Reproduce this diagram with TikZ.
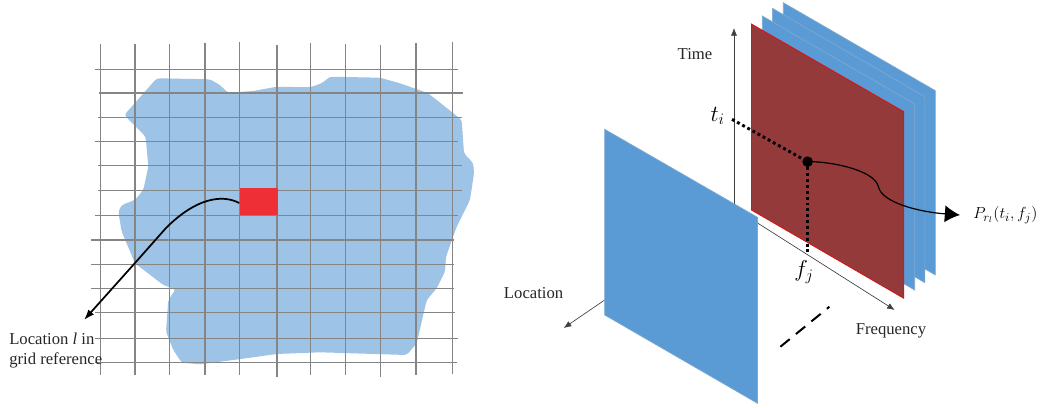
\documentclass[tikz,border=0pt]{standalone}
\usepackage{fontspec}
\usepackage{amsmath}
\usetikzlibrary{arrows.meta, positioning}
\setmainfont{Liberation Serif}
\definecolor{regionblue}{HTML}{9DC3E6}
\definecolor{panelblue}{HTML}{5B9BD5}
\definecolor{paneledge}{HTML}{7FA8CE}
\definecolor{panelred}{HTML}{943A3A}
\definecolor{cellred}{HTML}{EE2F36}
\definecolor{gridgray}{HTML}{858585}
\begin{document}
\begin{tikzpicture}[
      x=0.75pt, y=-0.75pt,
      gridline/.style={draw=gridgray, line width=0.8pt},
      panel/.style={fill=panelblue, draw=paneledge, line width=0.5pt},
      axis/.style={-{Latex[length=2mm, width=1.6mm]}, draw=black!75, line width=0.5pt},
      label/.style={font=\fontsize{12.5}{15}\selectfont, text=black!85, inner sep=0pt},
      bigmath/.style={font=\fontsize{17}{20}\selectfont, inner sep=0pt},
      dots/.style={line width=2.2pt, dash pattern=on 2.2pt off 2.2pt},
      cell/.style={fill=cellred, minimum width=28.5pt, minimum height=20.25pt, inner sep=0pt}
    ]
    \useasboundingbox (0,0) rectangle (1059,407);
    \fill[regionblue, rounded corners=2.2pt] (124.3,115) -- (156.7,78.3) -- (210,79.3) -- (220,85) -- (227.7,92.7)
      -- (253.3,91) -- (276.7,86.7) -- (310,87.3) -- (321.7,83.3) -- (330,76.7) -- (380,77.7) -- (400,83.3)
      -- (428.3,93.3) -- (461.7,120) -- (464,153.3) -- (473.3,163.3) -- (474,173.3) -- (470,200) -- (456.7,226.7)
      -- (446,256.7) -- (445,271.7) -- (436.7,288.3) -- (426.7,300) -- (416.7,343.3) -- (406.7,355) -- (320,352.3)
      -- (276.7,354) -- (233.3,360) -- (200,364.3) -- (181.7,362.7) -- (173.3,350) -- (166,331.7) -- (168.3,300)
      -- (175.7,289.3) -- (163.3,285) -- (135,263.3) -- (121.7,231.7) -- (118.3,211.7) -- (121.7,205) -- (135,200)
      -- (143.3,190) -- (148.3,166.7) -- (145.7,136.7) -- cycle;
    \foreach \x/\ya/\yb in {100.3/44/375, 135/44/375, 169.7/44/375, 205/43/375, 239.7/42/375,
        277/45/377, 310.7/43/375, 345.3/44/375, 380.7/45/377, 416/43/375, 452.7/42/374}
      \draw[gridline] (\x,\ya) -- (\x,\yb);
    \foreach \y/\xa/\xb in {69.3/95/458, 93/99/463, 117.7/98/462, 141.3/95/458, 165.7/98/462, 190.3/98/462,
        215.3/95/458, 240/91/454, 264.3/91/454, 288.7/91/454, 312.7/95/455, 338.3/95/458, 362.7/95/457}
      \draw[gridline] (\xa,\y) -- (\xb,\y);
    \node[cell] (cell) at (258.5,201.5) {};
    \coordinate (gridtip) at (84,320);
    \draw[-{Latex[length=2.8mm, width=2mm]}, line width=1.3pt] (cell.west) ++(0,1.5)
      .. controls (222,194) and (196,198) .. (166,228) -- (135,263) -- (gridtip);
    \node[label, anchor=west] (gridlabel) at (9,339) {Location \textit{l} in};
    \node[label, anchor=west, below=5.5pt of gridlabel.south west, anchor=north west] (gridlabelb) {grid reference};

    \coordinate (origin) at (734,205);
    \coordinate (timetip) at (734,28);
    \coordinate (freqstart) at (757.5,223);
    \coordinate (freqtip) at (894.7,310);
    \coordinate (locstart) at (604.7,300);
    \coordinate (loctip) at (563.7,328);
    \coordinate (gapa) at (780.4,346.7);
    \coordinate (gapb) at (829.4,306.7);
    \draw[axis] (origin) -- (timetip);
    \draw[axis] (freqstart) -- (freqtip);
    \draw[axis] (locstart) -- (loctip);
    \draw[panel] (783.3,2.7) -- (935.4,90.7) -- (935.4,275) -- (783.3,187) -- cycle;
    \draw[panel] (772.4,8.3) -- (924.9,96.7) -- (924.9,282.7) -- (772.4,194) -- cycle;
    \draw[panel] (762.3,16) -- (914.7,104) -- (914.7,290) -- (762.3,202) -- cycle;
    \draw[fill=panelred, draw=red!70!panelred, line width=0.6pt] (751.4,24) -- (903.8,111.7) -- (903.8,298.3) -- (751.4,210) -- cycle;
    \draw[panel] (604.7,129.3) -- (757.5,217.3) -- (757.5,403.3) -- (604.7,315) -- cycle;
    \draw[line width=1.5pt, dashed, dash pattern=on 9pt off 6pt] (gapa) -- (gapb);
    \node[label] (timelabel) at (695,54) {Time};
    \node[label] (freqlabel) at (891,331) {Frequency};
    \node[label] (loclabel) at (533.6,293) {Location};
    \node[bigmath, anchor=east] (tlabel) at (725,116) {$t_i$};
    \node[bigmath] (flabel) at (804,272) {$f_j$};
    \node[font=\fontsize{12.5}{15}\selectfont, inner sep=0pt, anchor=west] (plabel) at (973,215) {$P_{r_l}(t_i,f_j)$};
    \node[circle, fill=black, minimum size=8pt, inner sep=0pt] (point) at (807.6,161.7) {};
    \coordinate (tfoot) at (732,119.3);
    \coordinate (ffoot) at (807.6,253);
    \draw[dots] (tfoot) -- (point);
    \draw[dots] (point) -- (ffoot);
    \draw[-{Latex[length=4mm, width=4.5mm]}, line width=0.9pt] (point.east)
      .. controls (840,163) and (875,172) .. (878.4,186.7)
      .. controls (882,203) and (920,212) .. (plabel.west -| 960,213);
\end{tikzpicture}
\end{document}
